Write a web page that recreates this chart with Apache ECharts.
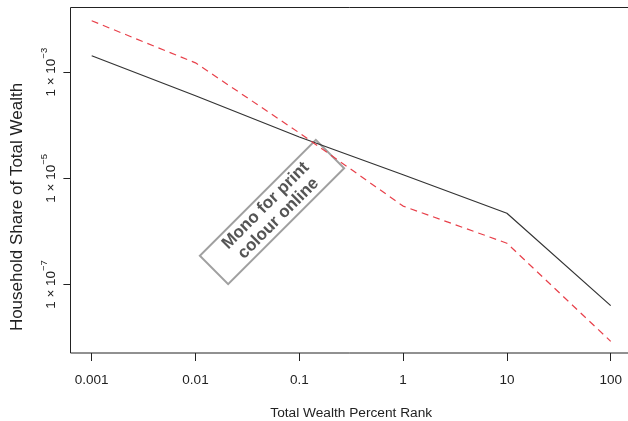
<!DOCTYPE html>
<html>
<head>
<meta charset="utf-8">
<script src="https://cdn.jsdelivr.net/npm/echarts@6/dist/echarts.min.js"></script>
<style>
html,body{margin:0;padding:0;background:#fff;}
#chart{width:628px;height:421px;}
</style>
</head>
<body>
<div id="chart"></div>
<script>
// ---- data ----
const xRank = [0.001, 0.01, 0.1, 1, 10, 100];
const monoShare = [2.04e-3, 3.6e-4, 6.0e-5, 1.17e-5, 2.2e-6, 4.0e-8];
const colourShare = [9.3e-3, 1.5e-3, 7.2e-5, 3.0e-6, 6.0e-7, 8.5e-9];
const xTickLabels = ['0.001', '0.01', '0.1', '1', '10', '100'];
const yTickValues = [1e-7, 1e-5, 1e-3];
const yTickExponents = ['\u22127', '\u22125', '\u22123'];
const xTitle = 'Total Wealth Percent Rank';
const yTitle = 'Household Share of Total Wealth';
const stampText = 'Mono for print\ncolour online';

const FONT = '"Liberation Sans", Arial, Helvetica, sans-serif';
const chart = echarts.init(document.getElementById('chart'), null, {renderer: 'canvas'});

const option = {
  animation: false,
  backgroundColor: '#fff',
  grid: {left: 91.7, right: 17.3, top: 72.2, bottom: 136.5, containLabel: false, outerBoundsMode: 'none'},
  xAxis: {
    type: 'log', logBase: 10, min: xRank[0], max: xRank[xRank.length - 1],
    offset: 68.5,
    axisLine: {show: false},
    axisTick: {show: true, length: 8, inside: false, lineStyle: {color: '#222', width: 1}},
    axisLabel: {
      margin: 20, color: '#222', fontFamily: FONT, fontSize: 13.5,
      formatter: function (v) {
        const i = xRank.findIndex(function (x) { return Math.abs(Math.log10(x) - Math.log10(v)) < 1e-6; });
        return i >= 0 ? xTickLabels[i] : '';
      }
    },
    splitLine: {show: false},
    minorTick: {show: false},
    name: xTitle, nameLocation: 'middle', nameGap: 53,
    nameTextStyle: {color: '#222', fontFamily: FONT, fontSize: 13.7}
  },
  yAxis: {
    type: 'log', logBase: 10, min: yTickValues[0], max: yTickValues[yTickValues.length - 1],
    offset: 20.8,
    axisLine: {show: false},
    axisTick: {show: true, length: 7.5, customValues: yTickValues, lineStyle: {color: '#222', width: 1}},
    axisLabel: {
      customValues: yTickValues,
      rotate: 90, margin: 13, color: '#222', fontFamily: FONT,
      formatter: function (v) {
        const i = yTickValues.findIndex(function (y) { return Math.abs(Math.log10(y) - Math.log10(v)) < 1e-6; });
        return i >= 0 ? '{b|1 \u00d7 10}{s|' + yTickExponents[i] + '}' : '';
      },
      rich: {
        b: {fontSize: 13.5, fontFamily: FONT, color: '#222', lineHeight: 19, verticalAlign: 'bottom'},
        s: {fontSize: 9.5, fontFamily: FONT, color: '#222', lineHeight: 19, verticalAlign: 'top'}
      }
    },
    splitLine: {show: false},
    minorTick: {show: false}
  },
  series: [
    {
      name: 'Mono', type: 'line', clip: false, showSymbol: false, symbol: 'none',
      data: xRank.map(function (x, i) { return [x, monoShare[i]]; }),
      lineStyle: {color: '#333', width: 1.2, type: 'solid'}
    },
    {
      name: 'Colour', type: 'line', clip: false, showSymbol: false, symbol: 'none',
      data: xRank.map(function (x, i) { return [x, colourShare[i]]; }),
      lineStyle: {color: '#e8404a', width: 1.2, type: [7, 5]}
    }
  ],
  graphic: [
    {
      type: 'rect', silent: true, z: 10,
      shape: {x: 70.5, y: 7.5, width: 620, height: 345.5},
      style: {fill: 'none', stroke: '#222', lineWidth: 1}
    },
    {
      type: 'text', silent: true, x: 17, y: 207, rotation: Math.PI / 2,
      style: {text: yTitle, fill: '#222', font: '17px ' + FONT, align: 'center', verticalAlign: 'middle'}
    },
    {
      type: 'group', x: 272, y: 212, rotation: Math.PI / 4, z: 20, silent: true,
      children: [
        {
          type: 'rect', shape: {x: -82, y: -20, width: 164, height: 40},
          style: {fill: 'none', stroke: '#a0a0a0', lineWidth: 2}
        },
        {
          type: 'text', x: 0, y: 0,
          style: {text: stampText, fill: '#555', font: 'bold 17px ' + FONT, align: 'center', verticalAlign: 'middle', lineHeight: 18}
        }
      ]
    }
  ]
};
chart.setOption(option);
</script>
</body>
</html>
